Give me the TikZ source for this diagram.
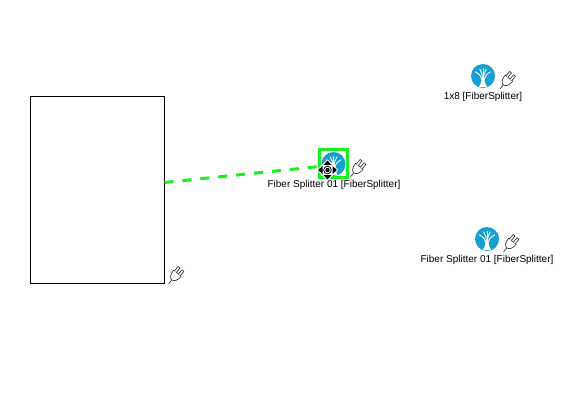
\documentclass[tikz,border=0pt]{standalone}
\usepackage{fontspec}
\setmainfont{Liberation Sans}
\definecolor{splitblue}{HTML}{169FD0}
\definecolor{selgreen}{HTML}{19F01E}
\tikzset{
  x=1pt,y=-1pt,
  lbl/.style={inner sep=0pt,font=\fontsize{10}{12}\selectfont,text=black},
  pics/splitter/.style={code={
    \fill[splitblue] (0,0) circle[radius=12];
    \fill[white] (-4,11) .. controls (-2,7) and (-1.2,4) .. (-1,0.5) -- (1,0.5) .. controls (1.2,4) and (2,7) .. (4,11) -- cycle;
    \begin{scope}[draw=white,line width=0.9pt,line cap=round]
      \draw (0,2) -- (0,-7.5);
      \draw (-0.6,2) .. controls (-0.8,-2) and (-1.5,-4) .. (-3.2,-7);
      \draw (0.6,2) .. controls (0.8,-2) and (1.5,-4) .. (3.2,-7);
      \draw (-1,3.5) .. controls (-1.6,0) and (-4,-2) .. (-7.6,-4.2);
      \draw (1,3.5) .. controls (1.6,0) and (4,-2) .. (7.6,-4.2);
    \end{scope}
  }},
  pics/plug/.style={code={
    \begin{scope}[shift={(-0.5,0.5)},rotate=-40,scale=1.35,line width=0.6pt,draw=black!85,line join=round]
      \draw[fill=white] (-3.6,-2.2) -- (3.6,-2.2) .. controls (3.6,2) and (2,4.2) .. (0,4.2) .. controls (-2,4.2) and (-3.6,2) .. (-3.6,-2.2) -- cycle;
      \draw[fill=white] (-2.8,-2.2) -- (-2.8,-6.4) -- (-1,-6.4) -- (-1,-2.2);
      \draw[fill=white] (1,-2.2) -- (1,-6.4) -- (2.8,-6.4) -- (2.8,-2.2);
      \draw (0,4.2) -- (0,8);
    \end{scope}
  }},
  wire/.style={draw=selgreen,line width=3pt,dash pattern=on 9pt off 9pt},
  boxstyle/.style={draw=black,line width=0.8pt,fill=white,minimum width=134pt,minimum height=187pt,inner sep=0pt,anchor=north west},
}
\begin{document}
\begin{tikzpicture}
\useasboundingbox[fill=white] (0,0) rectangle (585,407);
\node[boxstyle] (rack) at (30,96) {};
\node[draw=selgreen,line width=3pt,minimum size=28pt,inner sep=0pt] (sel) at (333.5,163.5) {};
\coordinate (wa) at (164.5,182.5);
\coordinate (wb) at (319,166.5);
\draw[wire] (wa) -- (wb);
\pic at (333.5,164) {splitter};
\node[lbl] (t1) at (334,184.7) {Fiber Splitter 01 [FiberSplitter]};
\pic at (358,168) {plug};
\pic at (483,76) {splitter};
\node[lbl] (t2) at (483,96.7) {1x8 [FiberSplitter]};
\pic at (507.5,80) {plug};
\pic at (487,239) {splitter};
\node[lbl] (t3) at (487,259.7) {Fiber Splitter 01 [FiberSplitter]};
\pic at (511,243) {plug};
\pic at (176,275) {plug};
% move handle
\fill[white,draw=white,line width=1pt,line join=round] (327.5,160) -- (337.5,170) -- (327.5,180) -- (317.5,170) -- cycle;
\fill[black] (327.5,160.5) -- (331.5,165) -- (323.5,165) -- cycle;
\fill[black] (327.5,179.5) -- (331.5,175) -- (323.5,175) -- cycle;
\fill[black] (318,170) -- (322.5,166) -- (322.5,174) -- cycle;
\fill[black] (337,170) -- (332.5,166) -- (332.5,174) -- cycle;
\draw[black,line width=0.8pt,fill=white] (327.5,170) circle[radius=3.8];
\fill[black] (327.5,170) circle[radius=2.2];
\end{tikzpicture}
\end{document}
